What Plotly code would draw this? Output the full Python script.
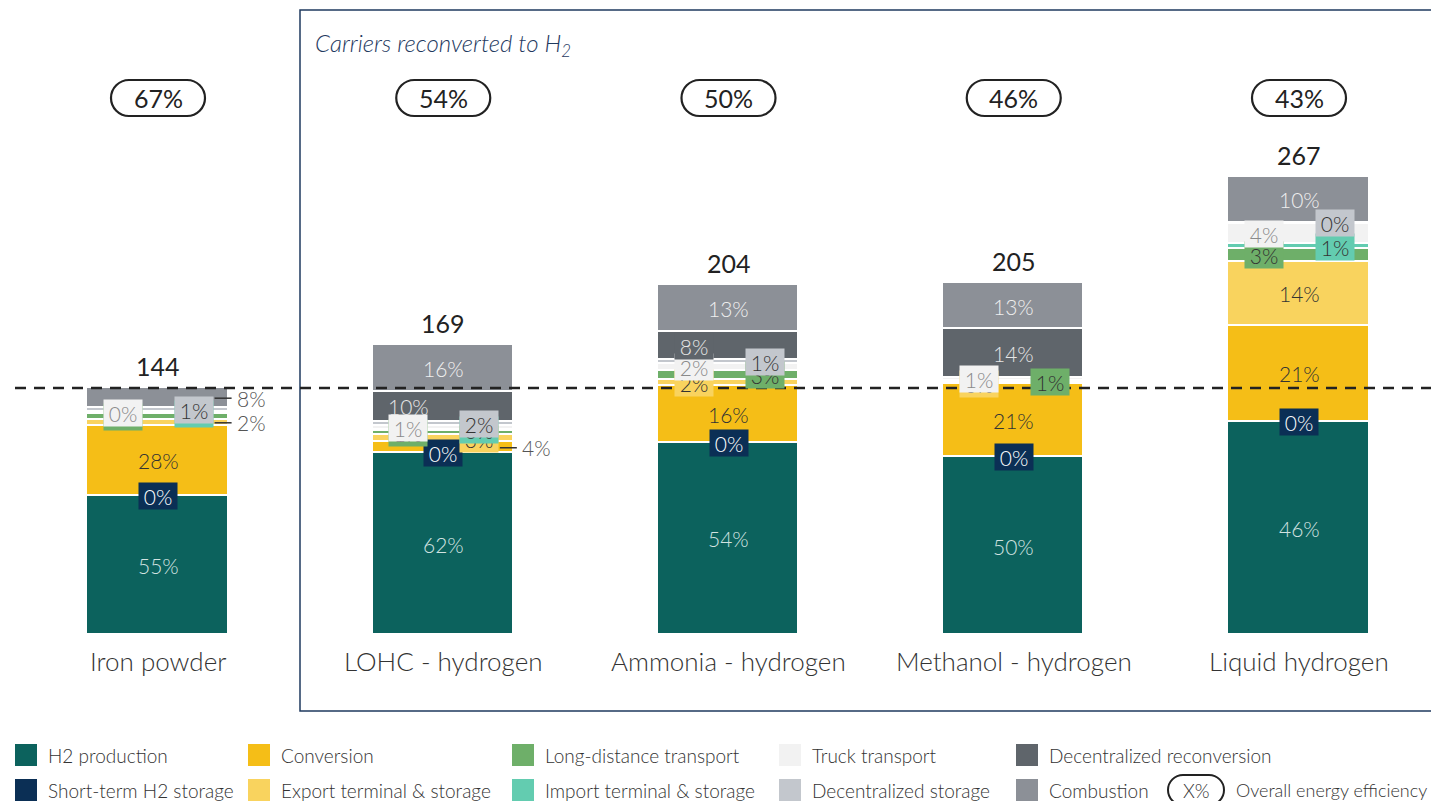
import plotly.graph_objects as go

# ---------------- data ----------------
categories = ["Iron powder", "LOHC - hydrogen", "Ammonia - hydrogen",
              "Methanol - hydrogen", "Liquid hydrogen"]
totals = [144, 169, 204, 205, 267]
efficiency = [67, 54, 50, 46, 43]
reference_level = 144

segments = ["H2 production", "Short-term H2 storage", "Conversion",
            "Export terminal & storage", "Long-distance transport",
            "Import terminal & storage", "Truck transport",
            "Decentralized storage", "Decentralized reconversion", "Combustion"]

# share of each step (% of total), per carrier
h2_production = [55.4, 61.8, 54.2, 50.2, 46.2]
short_term_storage = [0, 0, 0, 0, 0]
conversion = [28.0, 3.6, 16.0, 20.6, 20.8]
export_terminal = [2.2, 2.6, 1.8, 0.4, 13.8]
long_distance = [2.4, 1.3, 2.6, 0.6, 2.8]
import_terminal = [0.4, 0.4, 0, 0, 1.0]
truck_transport = [0.4, 1.2, 2.0, 0.8, 4.4]
dec_storage = [1.4, 1.6, 1.0, 0, 0.2]
dec_reconversion = [0, 10.0, 8.0, 13.8, 0]
combustion = [8.2, 16.0, 13.2, 13.0, 10.0]

shares = [h2_production, short_term_storage, conversion, export_terminal,
          long_distance, import_terminal, truck_transport, dec_storage,
          dec_reconversion, combustion]

# ---------------- style ----------------
colors = ["#0C625D", "#0B2F55", "#F5BE17", "#F9D35E", "#6EAF69",
          "#63CCB0", "#F2F2F2", "#C3C7CD", "#5F656B", "#8C9097"]
text_colors = ["#D3E3E1", "#FFFFFF", "#333333", "#333333", "#333333",
               "#333333", "#8A8A8A", "#333333", "#E6E6E6", "#EFEFEF"]

# label placement per carrier, per segment: c=center, L/R=side box, out=outside, None=no label
label_side = [
    ["c", "c", "c", "out", "L", "R", "L", "R", None, "out"],
    ["c", "c", "out", "R", "L", "R", "L", "R", "L", "c"],
    ["c", "c", "c", "L", "R", None, "L", "R", "L", "c"],
    ["c", "c", "c", "L", "R", None, "L", None, "c", "c"],
    ["c", "c", "c", "c", "L", "R", "L", "R", None, "c"],
]

FONT = "Lato"
W, H = 1431, 801
BASE_PX = 635            # pixel row of the bar baseline
X0_PX, STEP_PX = 158, 285.25
PX_PER_UNIT = 1.716
BAR_W = 0.495

def px2x(px):
    return (px - X0_PX) / STEP_PX

def py2paper(py):
    return (BASE_PX - py) / BASE_PX

def py2y(py):
    return (BASE_PX - py) / PX_PER_UNIT

n = len(categories)
xs = list(range(n))

# heights scaled so each bar reaches its total
sums = [sum(s[i] for s in shares) for i in range(n)]
heights = [[s[i] / sums[i] * totals[i] for i in range(n)] for s in shares]

fig = go.Figure()
for k, name in enumerate(segments):
    fig.add_trace(go.Bar(
        x=xs, y=heights[k], name=name, width=BAR_W,
        marker=dict(color=colors[k], line=dict(color="white", width=1.6)),
        hoverinfo="skip", showlegend=False,
    ))

annotations = []
shapes = []

# segment labels
for i in range(n):
    cum = 0.0
    for k in range(len(segments)):
        h = heights[k][i]
        yc = cum + h / 2
        cum += h
        side = label_side[i][k]
        if side is None:
            continue
        txt = f"{round(shares[k][i])}%"
        if side == "out":
            edge = i + BAR_W / 2
            shapes.append(dict(type="line", xref="x", yref="y",
                               x0=edge - 14 / STEP_PX, x1=edge + 3 / STEP_PX,
                               y0=yc, y1=yc, line=dict(color="#333333", width=1.5)))
            annotations.append(dict(x=edge, y=yc, xref="x", yref="y", text=txt,
                                    xanchor="left", yanchor="middle", xshift=6,
                                    showarrow=False,
                                    font=dict(family=FONT, size=21, color="#555555", weight=300)))
            continue
        small = shares[k][i] < 10
        xshift = {"c": 0, "L": -35, "R": 36}[side]
        a = dict(x=i, y=yc, xref="x", yref="y", text=txt, showarrow=False,
                 xanchor="center", yanchor="middle", xshift=xshift,
                 font=dict(family=FONT, size=21, color=text_colors[k], weight=300))
        if k == 1 or (side in ("L", "R") and small):
            a.update(bgcolor=colors[k], width=34, height=22, borderpad=2)
        annotations.append(a)

# totals above bars
for i in range(n):
    annotations.append(dict(x=i, y=totals[i], xref="x", yref="y", text=str(totals[i]),
                            showarrow=False, yanchor="bottom", yshift=5,
                            font=dict(family=FONT, size=25, color="#222222", weight=400)))

# efficiency bubbles
def stadium(w, h):
    r = h
    k = 0.5523 * r
    a = w - r
    return (f"M {-a},{-h} L {a},{-h} C {a + k},{-h} {w},{-k} {w},0 "
            f"C {w},{k} {a + k},{h} {a},{h} L {-a},{h} "
            f"C {-a - k},{h} {-w},{k} {-w},0 C {-w},{-k} {-a - k},{-h} {-a},{-h} Z")

bub_y = py2y(98)
for i in range(n):
    shapes.append(dict(type="path", xref="x", yref="y", xsizemode="pixel", ysizemode="pixel",
                       xanchor=i, yanchor=bub_y, path=stadium(47, 18),
                       line=dict(color="#222222", width=2.2), fillcolor="rgba(0,0,0,0)"))
    annotations.append(dict(x=i, y=bub_y, xref="x", yref="y", text=f"{efficiency[i]}%",
                            showarrow=False, xanchor="center", yanchor="middle",
                            font=dict(family=FONT, size=25, color="#222222", weight=400)))

# category labels
for i in range(n):
    annotations.append(dict(x=i, y=py2paper(661), xref="x", yref="paper", text=categories[i],
                            showarrow=False, xanchor="center", yanchor="middle",
                            font=dict(family=FONT, size=26, color="#333333", weight=300)))

# frame around reconverted carriers
shapes.append(dict(type="rect", xref="paper", yref="paper",
                   x0=300 / W, x1=1.01, y0=py2paper(711), y1=py2paper(10),
                   line=dict(color="#1F3A5F", width=1.5), fillcolor="rgba(0,0,0,0)", layer="below"))
annotations.append(dict(x=313 / W, y=py2paper(45), xref="paper", yref="paper",
                        text="Carriers reconverted to H<sub>2</sub>", showarrow=False,
                        xanchor="left", yanchor="middle",
                        font=dict(family=FONT, size=24, color="#1F3A5F", weight=300, style="italic")))

# dashed reference line
shapes.append(dict(type="line", xref="paper", yref="y", x0=15 / W, x1=1,
                   y0=reference_level, y1=reference_level,
                   line=dict(color="#222222", width=2.5, dash="11px,8px"), layer="above"))

# legend
leg_cols = [15, 248, 512, 779, 1016]
leg_rows = [755, 790]
SQ = 22
for k, name in enumerate(segments):
    cx = leg_cols[k // 2]
    cy = leg_rows[k % 2]
    shapes.append(dict(type="rect", xref="paper", yref="paper",
                       x0=cx / W, x1=(cx + SQ) / W,
                       y0=py2paper(cy + SQ / 2), y1=py2paper(cy - SQ / 2),
                       line=dict(width=0), fillcolor=colors[k]))
    annotations.append(dict(x=(cx + 31) / W, y=py2paper(cy), xref="paper", yref="paper",
                            text=name, showarrow=False, xanchor="left", yanchor="middle",
                            font=dict(family=FONT, size=19, color="#333333", weight=300)))

shapes.append(dict(type="path", xref="paper", yref="paper", xsizemode="pixel", ysizemode="pixel",
                   xanchor=1196 / W, yanchor=py2paper(790), path=stadium(28, 15),
                   line=dict(color="#222222", width=2), fillcolor="rgba(0,0,0,0)"))
annotations.append(dict(x=1196 / W, y=py2paper(790), xref="paper", yref="paper", text="X%",
                        showarrow=False, xanchor="center", yanchor="middle",
                        font=dict(family=FONT, size=19, color="#333333", weight=300)))
annotations.append(dict(x=1234 / W, y=py2paper(790), xref="paper", yref="paper",
                        text="Overall energy efficiency", showarrow=False,
                        xanchor="left", yanchor="middle",
                        font=dict(family=FONT, size=18, color="#333333", weight=300)))

fig.update_layout(
    width=W, height=H,
    margin=dict(l=0, r=0, t=0, b=H - BASE_PX, pad=0),
    barmode="stack", bargap=0,
    paper_bgcolor="white", plot_bgcolor="white",
    xaxis=dict(range=[px2x(0), px2x(W)], visible=False, fixedrange=True),
    yaxis=dict(range=[0, BASE_PX / PX_PER_UNIT], visible=False, fixedrange=True),
    shapes=shapes, annotations=annotations,
    font=dict(family=FONT),
)

fig.write_html("out.html", config={"displayModeBar": False},
               post_script="document.body.style.margin='0';document.body.style.overflow='hidden';")
